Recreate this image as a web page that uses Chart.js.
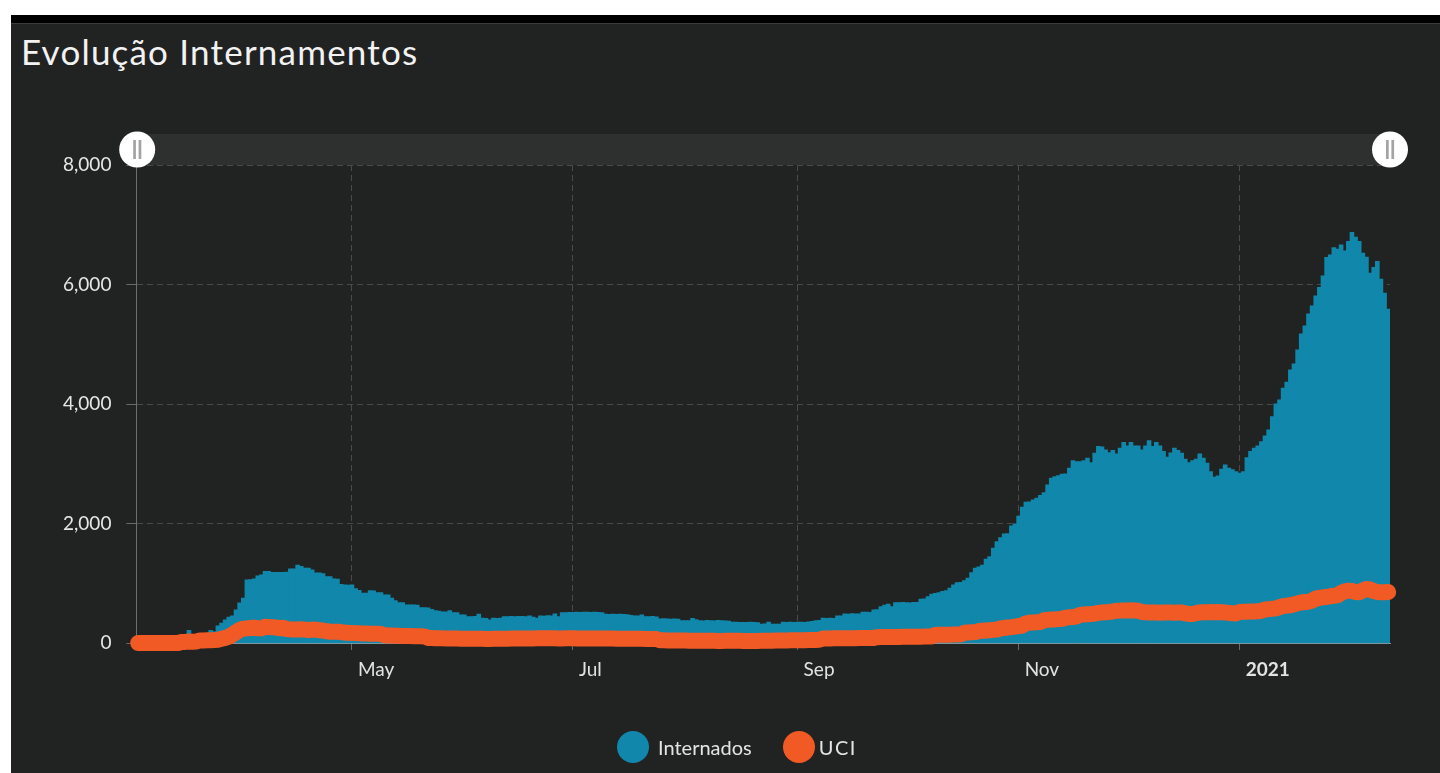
<!DOCTYPE html>
<html>
<head>
<meta charset="utf-8">
<script src="https://cdn.jsdelivr.net/npm/chart.js@4.4.1/dist/chart.umd.min.js"></script>
<style>
  html, body { margin:0; padding:0; width:1440px; height:773px; overflow:hidden; background:#ffffff; font-family:Lato, "Noto Sans", sans-serif; }
  #topbar { position:absolute; left:11px; top:15px; right:0; height:8px; background:#000; }
  #panel { position:absolute; left:11px; top:23px; right:0; bottom:0; background:#212322; border-top:1px solid #3a3c3b; }
  #title { position:absolute; left:21px; top:30px; font-size:35px; line-height:1.2; font-weight:400; letter-spacing:1.2px; color:#f2f2f2; white-space:nowrap; }
  #wrap { position:absolute; left:0; top:0; width:1440px; height:773px; }
  #legend { position:absolute; left:617px; top:731px; height:32px; display:flex; align-items:center; font-size:20px; color:#e4e4e4; }
  .item { display:flex; align-items:center; }
  .dot { width:32px; height:32px; border-radius:50%; }
</style>
</head>
<body>
<div id="topbar"></div>
<div id="panel"></div>
<div id="title">Evolução Internamentos</div>
<div id="wrap"><canvas id="c" width="1440" height="773"></canvas></div>
<div id="legend"></div>
<script>
// ---- Data (daily, from 2020-03-03 to 2021-02-11) ----
const startDay = '2020-03-03';

const internadosMar = [0,0,0,0,0,0,5,10,15,25,35,50,70,140,210,89,126,150,156,160,210,190,285,330,385,430,452,552,670];
const internadosApr = [750,1055,1060,1070,1120,1140,1195,1195,1180,1180,1180,1180,1185,1240,1240,1302,1280,1250,1250,1220,1170,1170,1160,1110,1110,1070,1065,980,970,965];
const internadosMay = [970,910,880,831,831,876,870,843,843,803,803,750,708,675,675,636,636,636,630,591,591,585,560,541,530,519,519,541,508,508,469];
const internadosJun = [469,441,438,444,480,413,410,385,415,412,414,441,438,444,440,445,442,439,452,430,413,452,449,455,451,485,441,508,505,510];
const internadosJul = [512,515,510,514,516,511,513,509,505,482,478,480,476,481,479,474,460,452,450,470,441,438,442,436,402,405,400,398,403,399,374];
const internadosAug = [374,372,408,390,374,370,376,372,368,375,371,369,366,346,348,344,345,342,347,343,340,313,316,346,313,315,312,346,344,346,342];
const internadosSep = [346,348,345,350,360,374,376,413,410,415,412,452,450,485,482,488,484,486,513,515,511,552,555,608,630,647,608,675,672,678];
const internadosOct = [675,670,678,676,731,735,775,815,830,843,860,876,915,971,1010,1012,1040,1083,1177,1250,1270,1300,1401,1445,1585,1696,1760,1825,1830,1958,1992];
const internadosNov = [2120,2271,2355,2360,2394,2422,2470,2516,2645,2757,2784,2800,2824,2830,2924,3052,3035,3035,3052,3091,3018,3175,3287,3280,3231,3186,3220,3164,3259,3354];
const internadosDec = [3298,3354,3298,3295,3231,3298,3387,3287,3354,3298,3203,3108,3180,3259,3220,3175,3075,3018,3050,3075,3164,3091,3008,2868,2774,2795,2908,2980,2924,2900,2868];
const internadosJan = [2840,2868,3100,3203,3259,3298,3370,3465,3566,3788,4001,4068,4264,4364,4570,4670,4905,5173,5307,5508,5641,5809,5948,6144,6450,6495,6617,6590,6663,6562,6718];
const internadosFeb = [6869,6791,6718,6523,6456,6188,6283,6383,6088,5854,5586];

const uciMar = [0,0,0,0,0,0,0,0,0,0,0,0,18,18,26,20,26,41,41,45,47,50,55,70,85,105,140,180,220];
const uciApr = [240,245,251,256,245,245,271,266,264,261,248,254,233,228,227,228,230,224,217,224,223,213,210,197,188,190,188,183,173,170];
const uciMay = [169,165,162,160,158,156,155,153,150,128,126,124,122,120,118,117,116,115,113,112,110,85,82,80,79,78,77,76,75,74,73];
const uciJun = [73,72,72,71,70,70,69,69,70,71,72,72,73,74,74,75,76,76,77,77,78,78,79,79,78,78,77,77,78,78];
const uciJul = [78,77,77,76,76,75,76,77,76,75,74,74,73,73,72,72,71,71,70,70,69,68,67,66,45,44,43,42,42,41,41];
const uciAug = [40,39,39,38,38,37,37,36,36,35,35,36,36,37,37,36,35,35,34,34,35,36,37,38,39,40,41,42,43,44,45];
const uciSep = [46,47,48,49,50,52,54,75,76,77,78,78,79,80,80,80,81,82,82,83,84,85,98,99,100,100,101,102,102,103];
const uciOct = [104,104,105,105,106,107,108,110,135,137,138,139,140,142,143,145,170,175,178,182,200,205,210,215,220,225,245,252,260,266,275];
const uciNov = [284,290,330,340,345,348,352,380,388,392,395,400,405,425,430,435,445,470,478,482,486,492,505,512,516,520,528,538,542,545];
const uciDec = [546,548,545,540,520,515,512,510,510,508,511,512,510,508,512,510,495,486,484,500,512,515,516,518,515,517,516,512,505,497,495];
const uciJan = [520,522,524,526,528,530,540,560,567,572,580,600,618,626,633,645,665,678,685,690,710,742,755,765,770,782,790,800,840,865,876];
const uciFeb = [870,855,850,880,904,895,870,855,850,848,852];

const tickDates  = ['2020-05-01','2020-07-01','2020-09-01','2020-11-01','2021-01-01'];
const tickLabels = ['May','Jul','Sep','Nov','2021'];
const yTicks = [0, 2000, 4000, 6000, 8000];

const seriesNames = ['Internados', 'UCI'];
const seriesColors = ['#1087ab', '#f15a24'];

// ---- Build ----
const internados = [].concat(internadosMar, internadosApr, internadosMay, internadosJun, internadosJul, internadosAug,
  internadosSep, internadosOct, internadosNov, internadosDec, internadosJan, internadosFeb);
const uci = [].concat(uciMar, uciApr, uciMay, uciJun, uciJul, uciAug, uciSep, uciOct, uciNov, uciDec, uciJan, uciFeb);

const dayLabels = [];
const t0 = Date.parse(startDay + 'T00:00:00Z');
for (let i = 0; i < internados.length; i++) {
  dayLabels.push(new Date(t0 + i * 86400000).toISOString().slice(0, 10));
}

Chart.defaults.font.family = 'Lato, "Noto Sans", sans-serif';

const scrollbarPlugin = {
  id: 'scrollbar',
  beforeDraw(chart) {
    const { ctx, chartArea: a } = chart;
    ctx.save();
    ctx.fillStyle = '#2e3030';
    ctx.fillRect(a.left, a.top - 31, a.right - a.left, 31);
    ctx.restore();
  },
  afterDraw(chart) {
    const { ctx, chartArea: a } = chart;
    const cy = a.top - 15.5;
    [a.left + 0.8, a.right].forEach(cx => {
      ctx.save();
      ctx.beginPath();
      ctx.arc(cx, cy, 18, 0, Math.PI * 2);
      ctx.fillStyle = '#ffffff';
      ctx.fill();
      ctx.fillStyle = '#a3a3a3';
      ctx.fillRect(cx - 4, cy - 9.5, 2.7, 19);
      ctx.fillRect(cx + 1.4, cy - 9.5, 2.7, 19);
      ctx.restore();
    });
  }
};

const chart = new Chart(document.getElementById('c'), {
  type: 'bar',
  data: {
    labels: dayLabels,
    datasets: [
      {
        type: 'line', label: seriesNames[1], data: uci,
        borderColor: seriesColors[1], backgroundColor: seriesColors[1],
        borderWidth: 16, borderCapStyle: 'round', borderJoinStyle: 'round',
        pointRadius: 0, pointHoverRadius: 0, tension: 0, order: 1, clip: 12
      },
      {
        type: 'bar', label: seriesNames[0], data: internados,
        backgroundColor: seriesColors[0], borderWidth: 0, inflateAmount: 0.5,
        barPercentage: 1, categoryPercentage: 1, order: 2
      }
    ]
  },
  options: {
    responsive: false,
    animation: false,
    layout: { padding: { left: 0, top: 165, right: 50, bottom: 0 } },
    plugins: { legend: { display: false }, tooltip: { enabled: false } },
    scales: {
      x: {
        offset: true,
        grid: { offset: false, color: '#4a4a4a', tickColor: '#6a6a6a', tickLength: 7, tickBorderDash: [] },
        border: { color: '#7d97a1', width: 1, dash: [6, 4] },
        afterBuildTicks: s => { s.ticks = tickDates.map(d => ({ value: dayLabels.indexOf(d) })); },
        afterFit: s => { s.height = 130; },
        ticks: {
          autoSkip: false, maxRotation: 0, minRotation: 0, align: 'start', labelOffset: 6, padding: 8,
          color: '#e2e2e2',
          font: c => ({ size: 19, weight: (c.index === tickLabels.length - 1) ? 'bold' : 'normal' }),
          callback: (v, i) => tickLabels[i]
        }
      },
      y: {
        min: 0, max: 8000,
        afterBuildTicks: s => { s.ticks = yTicks.map(v => ({ value: v })); },
        afterFit: s => { s.width = 136.4; },
        grid: { color: '#4a4a4a', tickColor: '#6a6a6a', tickLength: 10, tickBorderDash: [] },
        border: { color: '#6e6e6e', width: 1, dash: [6, 4] },
        ticks: {
          padding: 15, color: '#e6e6e6', font: { size: 19 },
          callback: v => Number(v).toLocaleString('en-US')
        }
      }
    }
  },
  plugins: [scrollbarPlugin]
});

// ---- HTML legend built from the datasets ----
const legend = document.getElementById('legend');
const gaps = [9, 4];
['Internados', 'UCI'].forEach((name, i) => {
  const ds = chart.data.datasets.find(d => d.label === name);
  const item = document.createElement('div');
  item.className = 'item';
  if (i > 0) item.style.marginLeft = '31px';
  const dot = document.createElement('span');
  dot.className = 'dot';
  dot.style.background = ds.backgroundColor;
  const txt = document.createElement('span');
  txt.textContent = ds.label;
  txt.style.marginLeft = gaps[i] + 'px';
  if (i > 0) txt.style.letterSpacing = '1.5px';
  item.appendChild(dot); item.appendChild(txt);
  legend.appendChild(item);
});
</script>
</body>
</html>
